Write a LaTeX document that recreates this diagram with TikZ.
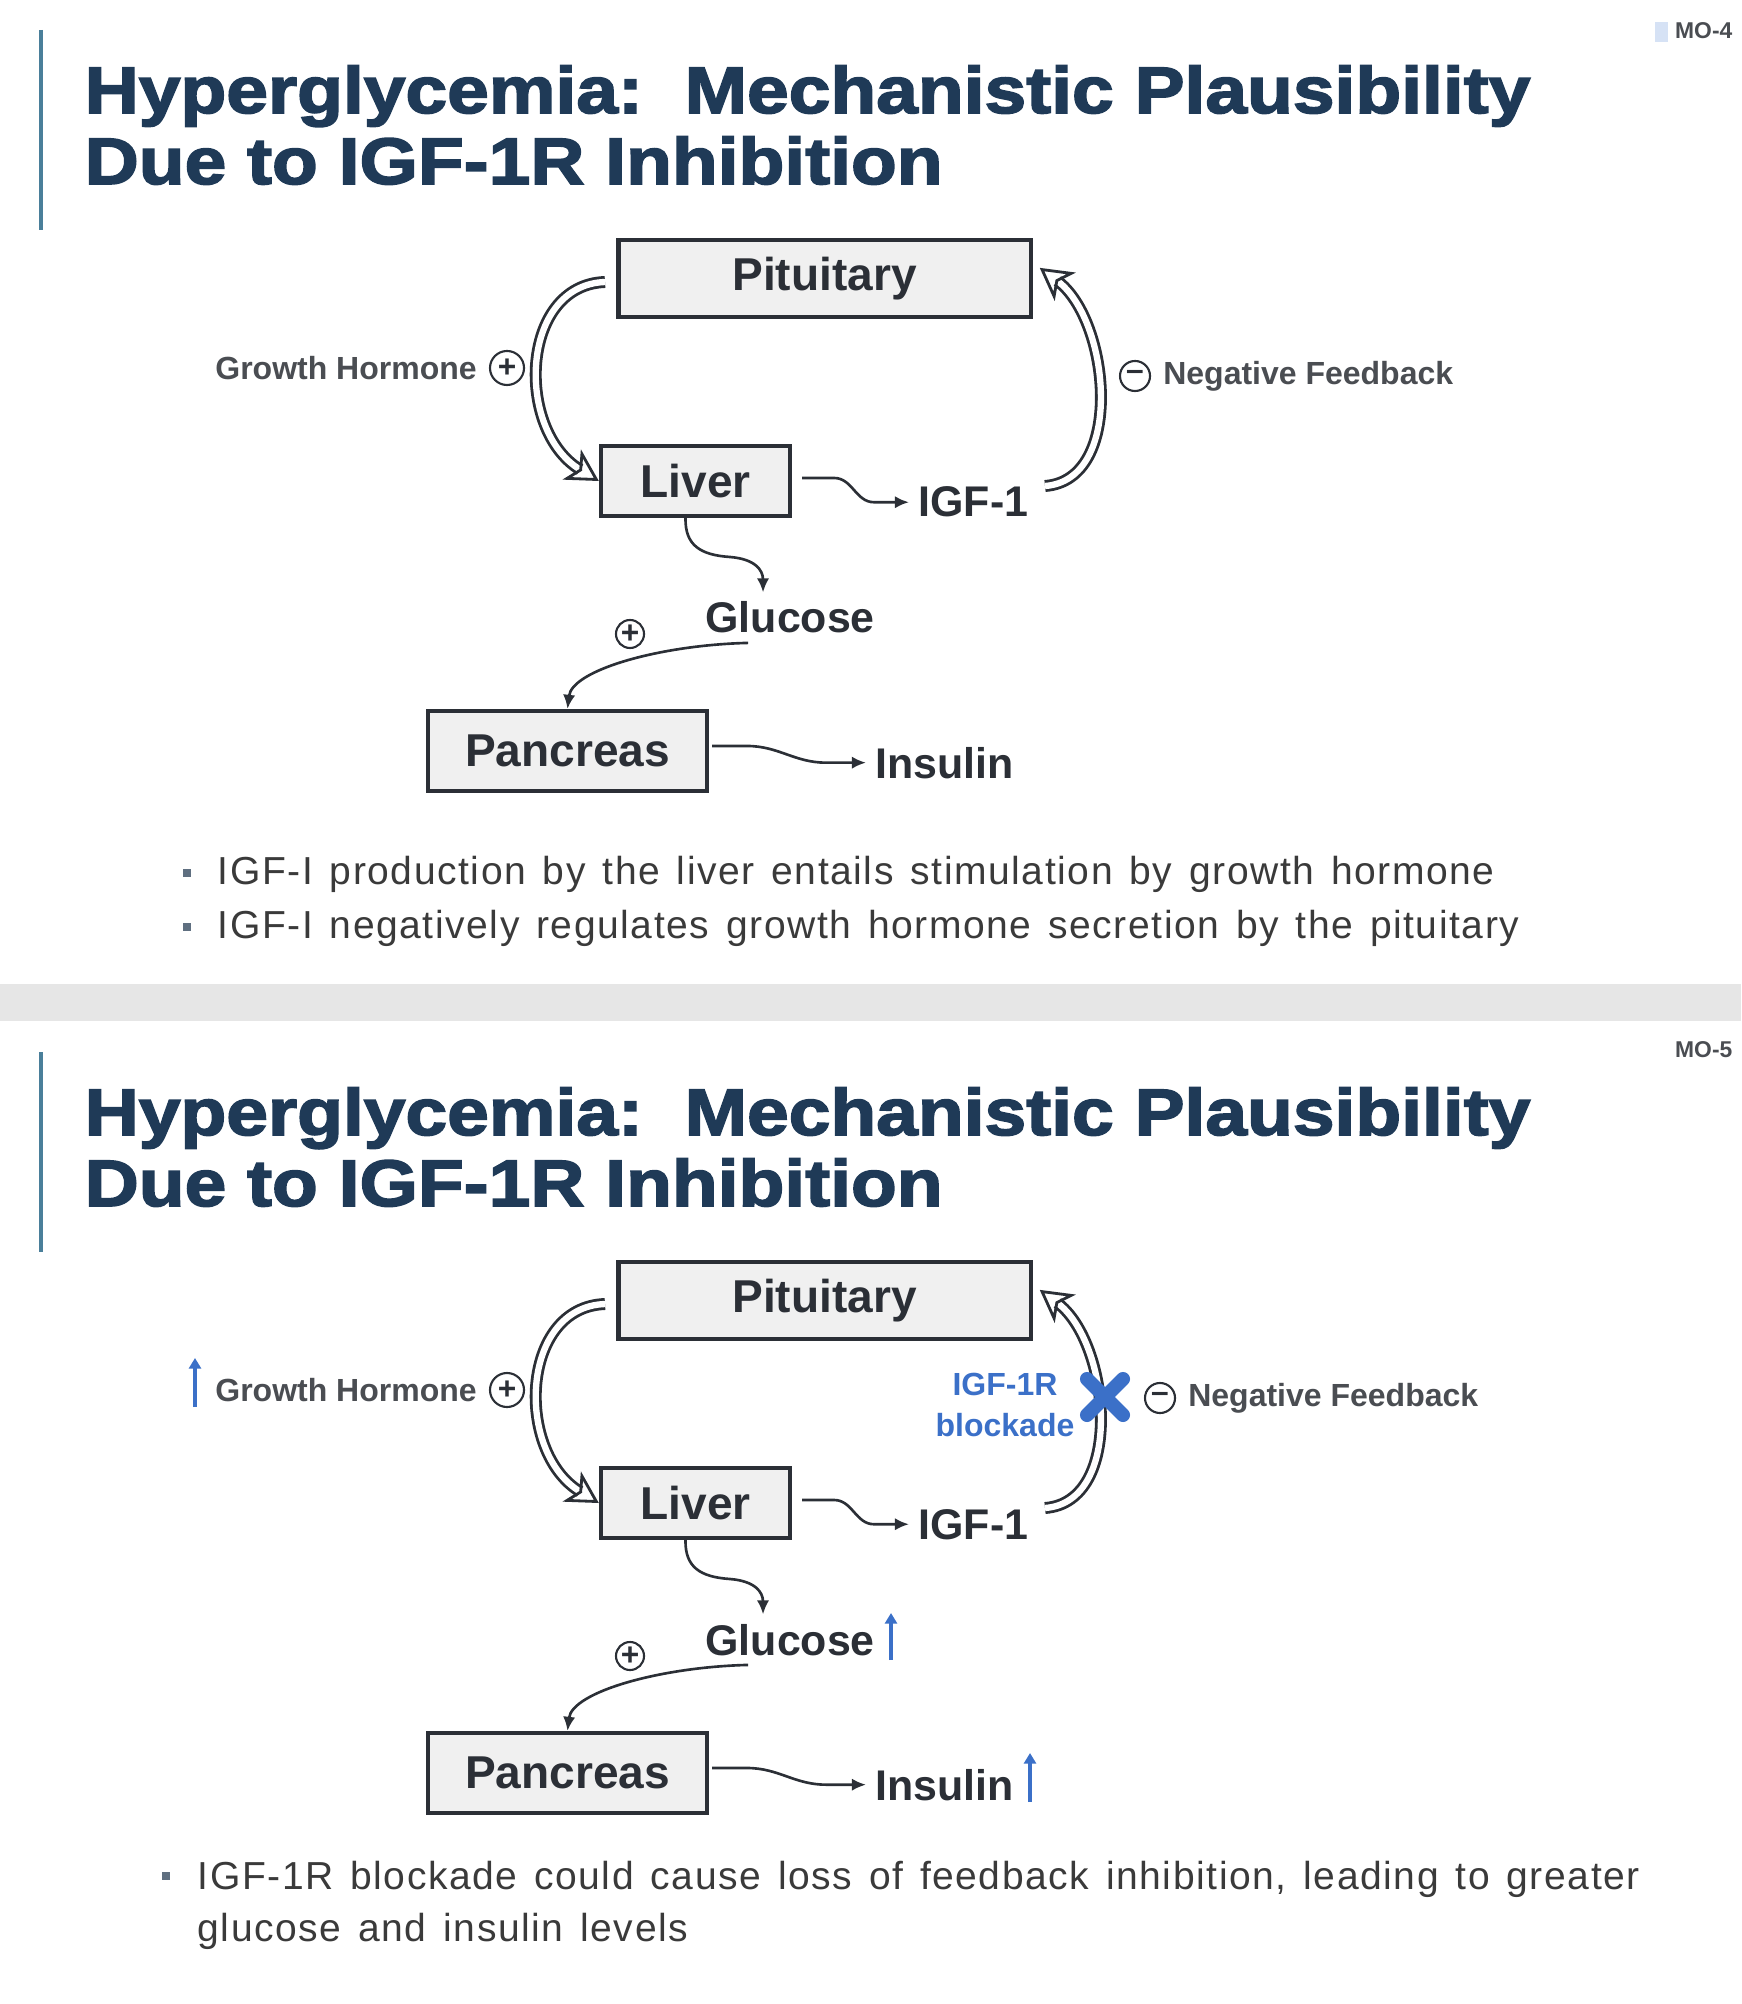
\documentclass[tikz,border=0pt]{standalone}
\usepackage{fontspec}
\setmainfont{Liberation Sans}
\newfontfamily\titlefont{Liberation Sans}[FakeBold=2.5, FakeStretch=1.14]
\newfontfamily\bodyfont{Liberation Sans}[LetterSpace=4]
\newcommand\widespace{\spaceskip=4.8pt plus 1pt minus 0.5pt\relax}
\usetikzlibrary{arrows.meta,positioning}
\definecolor{navy}{HTML}{1F3A57}
\definecolor{barblue}{HTML}{4A7F9A}
\definecolor{ink}{HTML}{2B2F36}
\definecolor{boxfill}{HTML}{F0F0F0}
\definecolor{labgray}{HTML}{4A4D52}
\definecolor{upblue}{HTML}{3B70C8}
\definecolor{bodytext}{HTML}{3A3A3A}
\definecolor{band}{HTML}{E6E6E6}
\definecolor{bulletsq}{HTML}{5F6F80}
\definecolor{hilite}{HTML}{D6E2F5}
\tikzset{
  organ/.style={draw=ink, fill=boxfill, line width=1.2pt, inner sep=0pt, text=ink,
    font=\bfseries\fontsize{13.1}{15}\selectfont},
  product/.style={inner sep=2.5pt, text=ink, anchor=base west,
    font=\bfseries\fontsize{12.2}{14}\selectfont},
  smalllab/.style={inner sep=1pt, text=labgray, font=\bfseries\fontsize{9.1}{11}\selectfont},
  sign/.style={circle, draw=ink, line width=.6pt, inner sep=0pt, text=ink,
    font=\bfseries\fontsize{9}{9}\selectfont},
  hormone/.style={draw=ink, line width=.8pt, double=white, double distance=1.8pt,
    -{Stealth[open, length=9pt, width=10pt, inset=2.5pt]}},
  wavy/.style={draw=ink, line width=.75pt, -{Latex[length=4pt, width=3.5pt]}},
  uparrow/.style={draw=upblue, line width=1.1pt, -{Triangle[length=3pt, width=3.4pt]}},
  bullettext/.style={inner sep=0pt, anchor=base west, text=bodytext,
    font=\bodyfont\fontsize{11.1}{15}\selectfont\widespace},
  titletext/.style={inner sep=0pt, anchor=base west, text=navy,
    font=\titlefont\bfseries\fontsize{18.7}{22}\selectfont},
  slidenum/.style={inner sep=0pt, text=labgray, font=\bfseries\fontsize{6.5}{7}\selectfont}
}
\frenchspacing
\begin{document}
\begin{tikzpicture}[x=0.01cm,y=-0.01cm]
\useasboundingbox (0,0) rectangle (1741,2004);
%\draw[help lines] (0,0) grid[step=1cm] (1741,2004);
% band between the two slides
\fill[band] (0,984) rectangle (1741,1021);
\fill[hilite] (1655,22) rectangle (1668,42);
\node[slidenum, anchor=east] (MO4) at (1733,31) {MO-4};
\node[slidenum, anchor=east] (MO5) at (1733,1050) {MO-5};
%
\foreach \dy/\pn/\nfx in {0/A/1135,1022/B/1160}{
\begin{scope}[shift={(0,\dy)}, name prefix=\pn]
\draw[barblue, line width=1.2pt] (41,30)--(41,230);
\node[titletext] (T1) at (84,113) {Hyperglycemia:\ \ Mechanistic Plausibility};
\node[titletext] (T2) at (84,184) {Due to IGF-1R Inhibition};
% organs and products
\node[organ, minimum width=4.12cm, minimum height=.77cm] (Pit) at (824.5,278.5) {Pituitary};
\node[organ, minimum width=1.89cm, minimum height=.70cm] (Liv) at (695.5,481) {Liver};
\node[organ, minimum width=2.79cm, minimum height=.80cm] (Pan) at (567.5,751) {Pancreas};
\node[product] (IGF) at (909,517) {IGF-1};
\node[product] (Glu) at (696,633) {Glucose};
\node[product] (Ins) at (866,778) {Insulin};
% signs and labels
\node[sign, minimum size=.34cm] (GHp) at (507,368) {+};
\node[smalllab, left=.08cm of GHp] (GH) {Growth Hormone};
\node[sign, minimum size=.30cm] (NFm) at (\nfx,376) {\raisebox{.3pt}{--}};
\node[smalllab, right=.08cm of NFm] (NF) {Negative Feedback};
\node[sign, minimum size=.28cm] (GPp) at (630,634) {+};
% hormone loop
\coordinate (GHt) at (605,282);
\coordinate (NFt) at (1045,486);
\draw[hormone] (GHt) .. controls (520,285) and (515,430) .. (Liv.west);
\draw[hormone] (NFt) .. controls (1125,480) and (1110,320) .. ([shift={(7,30)}]Pit.north east);
% secretion
\draw[wavy] ([shift={(10,-3)}]Liv.east) -- ++(32,0) to[out=0,in=180] ([xshift=-.35cm]IGF.west) -- (IGF.west);
\draw[wavy] ([xshift=-.1cm]Liv.south) .. controls (685,545) and (700,555) .. (730,557)
  .. controls (755,559) and (763,570) .. ([xshift=.67cm]Glu.north west);
\draw[wavy] ([xshift=.52cm]Glu.south west) .. controls (660,645) and (572,670) .. (Pan.north);
\draw[wavy] ([shift={(3,-5)}]Pan.east) -- ++(35,0) to[out=0,in=180] ([xshift=-.4cm]Ins.west) -- (Ins.west);
\end{scope}
}
%
% bullets, first slide
\fill[bulletsq] (183,869) rectangle (191,877);
\fill[bulletsq] (183,923) rectangle (191,931);
\node[bullettext] (L1) at (217,884) {IGF-I production by the liver entails stimulation by growth hormone};
\node[bullettext] (L2) at (217,938) {IGF-I negatively regulates growth hormone secretion by the pituitary};
%
% second slide: blockade and rises
\node[align=center, inner sep=0pt, text=upblue, font=\bfseries\fontsize{9.1}{11.4}\selectfont]
  (Blk) at (1005,1405) {IGF-1R\\blockade};
\draw[upblue, line width=4pt, line cap=round] (1087,1379)--(1123,1415) (1087,1415)--(1123,1379);
\draw[uparrow] (195,1407) -- (195,1358);
\draw[uparrow] (891,1660) -- (891,1613);
\draw[uparrow] (1030,1802) -- (1030,1753);
\fill[bulletsq] (162,1872) rectangle (170,1880);
\node[bullettext] (L3) at (197,1889) {IGF-1R blockade could cause loss of feedback inhibition, leading to greater};
\node[bullettext] (L4) at (197,1941) {glucose and insulin levels};
\end{tikzpicture}
\end{document}
